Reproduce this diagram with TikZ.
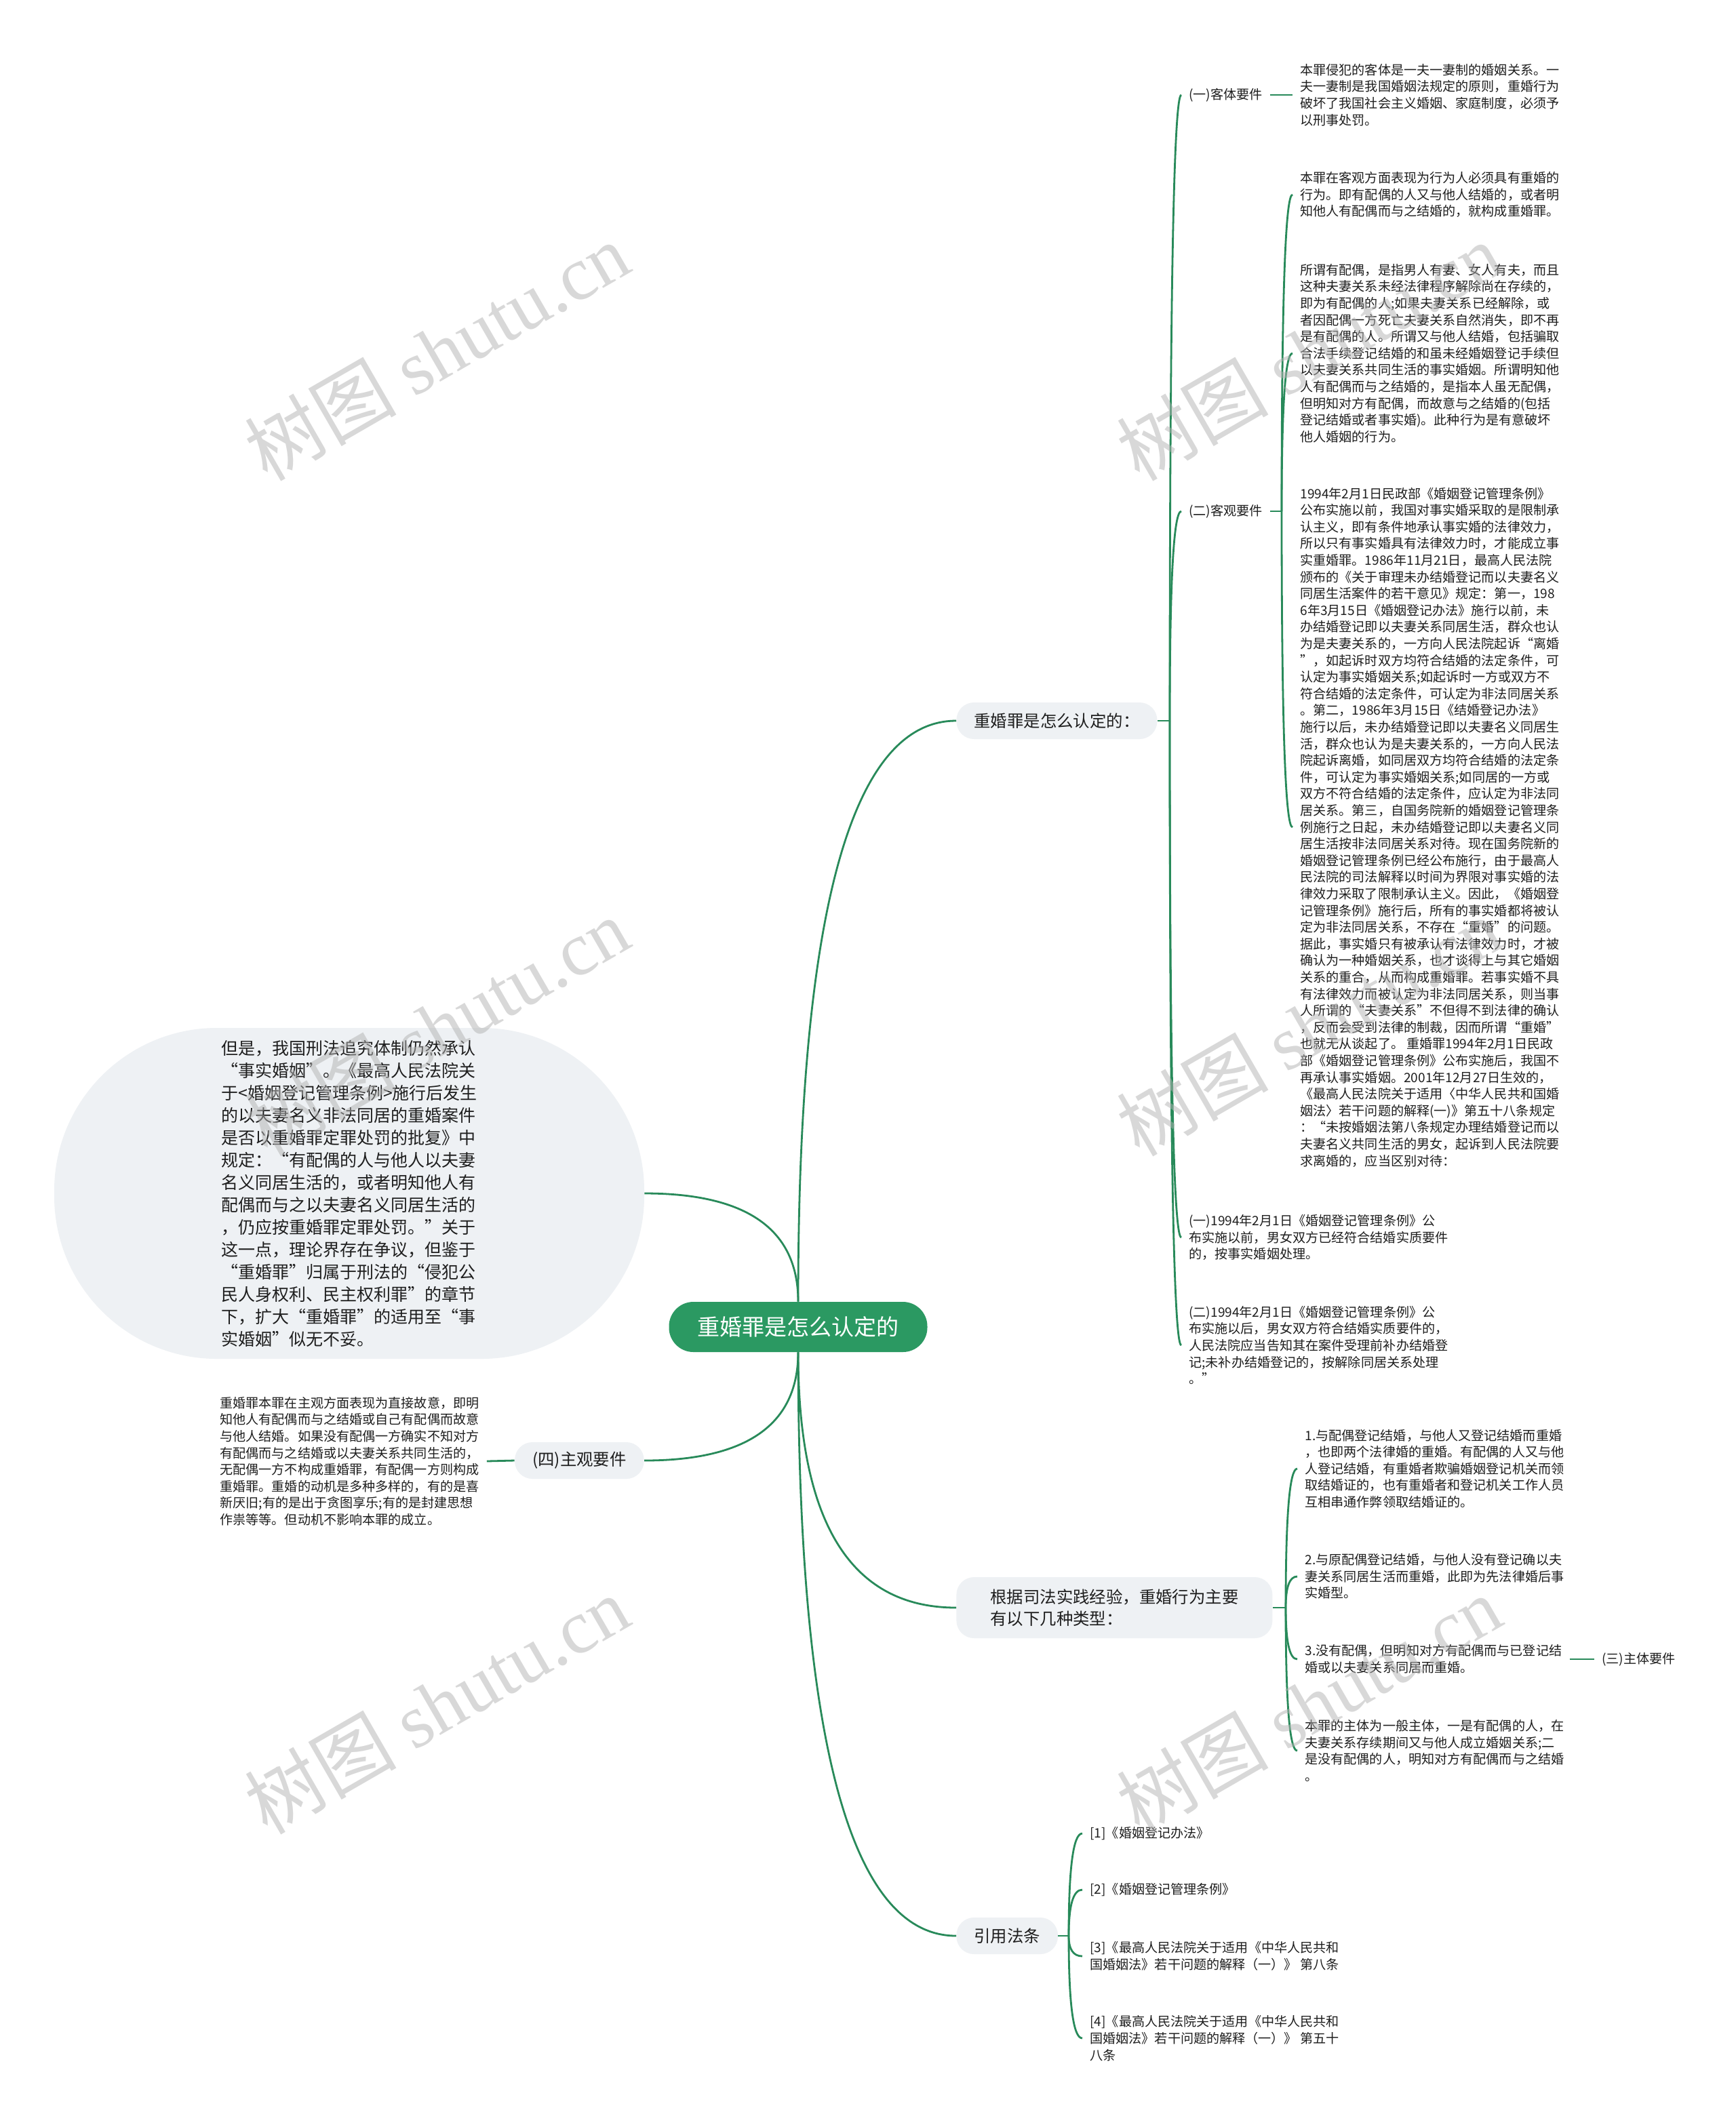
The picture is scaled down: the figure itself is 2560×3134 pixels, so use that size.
\documentclass[tikz,border=0pt]{standalone}
\usepackage{fontspec}
\setmainfont{Noto Sans CJK SC}
\newfontfamily\wmfont{Liberation Serif}
\usepackage{tikz}
\usetikzlibrary{calc,positioning}
\definecolor{linkgreen}{RGB}{40,138,90}
\definecolor{rootgreen}{RGB}{43,153,98}
\definecolor{bubblegray}{RGB}{238,241,244}
\definecolor{inkgray}{RGB}{30,30,30}
\tikzset{
  link/.style={draw=linkgreen, line width=1.4pt},
  bend link/.style={link, to path={.. controls ($(\tikztostart)!.667!(\tikztostart|-\tikztotarget)$) and ($(\tikztotarget)!.667!(\tikztostart|-\tikztotarget)$) .. (\tikztotarget)}},
  body/.style={anchor=west, align=left, inner xsep=5.5pt, inner ysep=0pt, text=inkgray, font=\fontsize{9.55pt}{12.3pt}\selectfont},
  branch/.style={fill=bubblegray, rounded corners=13pt, inner xsep=13pt, minimum height=27pt, align=left, text=inkgray, font=\fontsize{12.2pt}{16pt}\selectfont},
  bubble/.style={fill=bubblegray, rounded corners=120pt, minimum width=435pt, minimum height=244pt, inner sep=0pt, align=left, text=inkgray, font=\fontsize{12.5pt}{16.5pt}\selectfont},
  rootbox/.style={fill=rootgreen, rounded corners=18pt, inner xsep=21pt, minimum height=37pt, text=white, font=\fontsize{16.5pt}{20pt}\selectfont},
  wmark/.style={rotate=30, text=gray!60, opacity=0.5, font=\fontsize{56pt}{60pt}\selectfont},
}
\begin{document}
\begin{tikzpicture}[x=0.5pt,y=-0.5pt]
\fill[white] (0,0) rectangle (2560,3134);
\useasboundingbox (0,0) rectangle (2560,3134);

\draw(1177,1957) node[rootbox] (root) {重婚罪是怎么认定的};
\draw(1410,1063) node[branch,anchor=west] (br1) {重婚罪是怎么认定的：};
\draw(1410,2371) node[branch,anchor=west,minimum width=233pt,minimum height=45pt] (br2) {根据司法实践经验，重婚行为主要\\有以下几种类型：};
\draw(1410,2855) node[branch,anchor=west] (br3) {引用法条};
\draw(950,2154) node[branch,anchor=east] (br4) {(四)主观要件};
\draw(515,1760) node[bubble] (ell) {但是，我国刑法追究体制仍然承认\\
“事实婚姻”。《最高人民法院关\\
于<婚姻登记管理条例>施行后发生\\
的以夫妻名义非法同居的重婚案件\\
是否以重婚罪定罪处罚的批复》中\\
规定：“有配偶的人与他人以夫妻\\
名义同居生活的，或者明知他人有\\
配偶而与之以夫妻名义同居生活的\\
，仍应按重婚罪定罪处罚。”关于\\
这一点，理论界存在争议，但鉴于\\
“重婚罪”归属于刑法的“侵犯公\\
民人身权利、民主权利罪”的章节\\
下，扩大“重婚罪”的适用至“事\\
实婚姻”似无不妥。};

\draw(313,2155) node[body] (q1) {重婚罪本罪在主观方面表现为直接故意，即明\\
知他人有配偶而与之结婚或自己有配偶而故意\\
与他人结婚。如果没有配偶一方确实不知对方\\
有配偶而与之结婚或以夫妻关系共同生活的，\\
无配偶一方不构成重婚罪，有配偶一方则构成\\
重婚罪。重婚的动机是多种多样的，有的是喜\\
新厌旧;有的是出于贪图享乐;有的是封建思想\\
作祟等等。但动机不影响本罪的成立。};

\draw(1742,140) node[body] (ke) {(一)客体要件};
\draw(1742,754) node[body] (kg) {(二)客观要件};
\draw(1742,1825) node[body] (k3) {(一)1994年2月1日《婚姻登记管理条例》公\\
布实施以前，男女双方已经符合结婚实质要件\\
的，按事实婚姻处理。};
\draw(1742,1984) node[body] (k4) {(二)1994年2月1日《婚姻登记管理条例》公\\
布实施以后，男女双方符合结婚实质要件的，\\
人民法院应当告知其在案件受理前补办结婚登\\
记;未补办结婚登记的，按解除同居关系处理\\
。”};

\draw(1906,140) node[body] (t1) {本罪侵犯的客体是一夫一妻制的婚姻关系。一\\
夫一妻制是我国婚姻法规定的原则，重婚行为\\
破坏了我国社会主义婚姻、家庭制度，必须予\\
以刑事处罚。};
\draw(1906,287) node[body] (t2) {本罪在客观方面表现为行为人必须具有重婚的\\
行为。即有配偶的人又与他人结婚的，或者明\\
知他人有配偶而与之结婚的，就构成重婚罪。};
\draw(1906,521) node[body] (t3) {所谓有配偶，是指男人有妻、女人有夫，而且\\
这种夫妻关系未经法律程序解除尚在存续的，\\
即为有配偶的人;如果夫妻关系已经解除，或\\
者因配偶一方死亡夫妻关系自然消失，即不再\\
是有配偶的人。所谓又与他人结婚，包括骗取\\
合法手续登记结婚的和虽未经婚姻登记手续但\\
以夫妻关系共同生活的事实婚姻。所谓明知他\\
人有配偶而与之结婚的，是指本人虽无配偶，\\
但明知对方有配偶，而故意与之结婚的(包括\\
登记结婚或者事实婚)。此种行为是有意破坏\\
他人婚姻的行为。};
\draw(1906,1220) node[body] (t4) {1994年2月1日民政部《婚姻登记管理条例》\\
公布实施以前，我国对事实婚采取的是限制承\\
认主义，即有条件地承认事实婚的法律效力，\\
所以只有事实婚具有法律效力时，才能成立事\\
实重婚罪。1986年11月21日，最高人民法院\\
颁布的《关于审理未办结婚登记而以夫妻名义\\
同居生活案件的若干意见》规定：第一，198\\
6年3月15日《婚姻登记办法》施行以前，未\\
办结婚登记即以夫妻关系同居生活，群众也认\\
为是夫妻关系的，一方向人民法院起诉“离婚\\
”，如起诉时双方均符合结婚的法定条件，可\\
认定为事实婚姻关系;如起诉时一方或双方不\\
符合结婚的法定条件，可认定为非法同居关系\\
。第二，1986年3月15日《结婚登记办法》\\
施行以后，未办结婚登记即以夫妻名义同居生\\
活，群众也认为是夫妻关系的，一方向人民法\\
院起诉离婚，如同居双方均符合结婚的法定条\\
件，可认定为事实婚姻关系;如同居的一方或\\
双方不符合结婚的法定条件，应认定为非法同\\
居关系。第三，自国务院新的婚姻登记管理条\\
例施行之日起，未办结婚登记即以夫妻名义同\\
居生活按非法同居关系对待。现在国务院新的\\
婚姻登记管理条例已经公布施行，由于最高人\\
民法院的司法解释以时间为界限对事实婚的法\\
律效力采取了限制承认主义。因此，《婚姻登\\
记管理条例》施行后，所有的事实婚都将被认\\
定为非法同居关系，不存在“重婚”的问题。\\
据此，事实婚只有被承认有法律效力时，才被\\
确认为一种婚姻关系，也才谈得上与其它婚姻\\
关系的重合，从而构成重婚罪。若事实婚不具\\
有法律效力而被认定为非法同居关系，则当事\\
人所谓的“夫妻关系”不但得不到法律的确认\\
，反而会受到法律的制裁，因而所谓“重婚”\\
也就无从谈起了。 重婚罪1994年2月1日民政\\
部《婚姻登记管理条例》公布实施后，我国不\\
再承认事实婚姻。2001年12月27日生效的，\\
《最高人民法院关于适用〈中华人民共和国婚\\
姻法〉若干问题的解释(一)》第五十八条规定\\
：“未按婚姻法第八条规定办理结婚登记而以\\
夫妻名义共同生活的男女，起诉到人民法院要\\
求离婚的，应当区别对待：};

\draw(1913,2166) node[body] (s1) {1.与配偶登记结婚，与他人又登记结婚而重婚\\
，也即两个法律婚的重婚。有配偶的人又与他\\
人登记结婚，有重婚者欺骗婚姻登记机关而领\\
取结婚证的，也有重婚者和登记机关工作人员\\
互相串通作弊领取结婚证的。};
\draw(1913,2325) node[body] (s2) {2.与原配偶登记结婚，与他人没有登记确以夫\\
妻关系同居生活而重婚，此即为先法律婚后事\\
实婚型。};
\draw(1913,2447) node[body] (s3) {3.没有配偶，但明知对方有配偶而与已登记结\\
婚或以夫妻关系同居而重婚。};
\draw(1913,2582) node[body] (s4) {本罪的主体为一般主体，一是有配偶的人，在\\
夫妻关系存续期间又与他人成立婚姻关系;二\\
是没有配偶的人，明知对方有配偶而与之结婚\\
。};
\draw(2351,2447) node[body] (zt) {(三)主体要件};

\draw(1596,2704) node[body] (r1) {[1]《婚姻登记办法》};
\draw(1596,2787) node[body] (r2) {[2]《婚姻登记管理条例》};
\draw(1596,2885) node[body] (r3) {[3]《最高人民法院关于适用《中华人民共和\\
国婚姻法》若干问题的解释（一）》 第八条};
\draw(1596,3006) node[body] (r4) {[4]《最高人民法院关于适用《中华人民共和\\
国婚姻法》若干问题的解释（一）》 第五十\\
八条};

\coordinate (j1) at (1725,1063);
\coordinate (j2) at (1890,754);
\coordinate (j3) at (1896,2371);
\coordinate (j4) at (1576,2855);

\draw[bend link] (root.north) to (br1.west);
\draw[bend link] (root.north) to (ell.east);
\draw[bend link] (root.south) to (br4.east);
\draw[bend link] (root.south) to (br2.west);
\draw[bend link] (root.south) to (br3.west);
\draw[link] (br4.west) -- (q1.east);

\draw[link] (br1.east) -- (j1);
\draw[bend link] (j1) to (ke.west);
\draw[bend link] (j1) to (kg.west);
\draw[bend link] (j1) to (k3.west);
\draw[bend link] (j1) to (k4.west);
\draw[link] (ke.east) -- (t1.west);
\draw[link] (kg.east) -- (j2);
\draw[bend link] (j2) to (t2.west);
\draw[bend link] (j2) to (t3.west);
\draw[bend link] (j2) to (t4.west);

\draw[link] (br2.east) -- (j3);
\draw[bend link] (j3) to (s1.west);
\draw[bend link] (j3) to (s2.west);
\draw[bend link] (j3) to (s3.west);
\draw[bend link] (j3) to (s4.west);
\draw[link] (s3.east) -- (zt.west);

\draw[link] (br3.east) -- (j4);
\draw[bend link] (j4) to (r1.west);
\draw[bend link] (j4) to (r2.west);
\draw[bend link] (j4) to (r3.west);
\draw[bend link] (j4) to (r4.west);

\draw(644,518) node[wmark] (w1) {树图 {\wmfont shutu.cn}};
\draw(1930,518) node[wmark] (w2) {树图 {\wmfont shutu.cn}};
\draw(644,1514) node[wmark] (w3) {树图 {\wmfont shutu.cn}};
\draw(1930,1514) node[wmark] (w4) {树图 {\wmfont shutu.cn}};
\draw(644,2514) node[wmark] (w5) {树图 {\wmfont shutu.cn}};
\draw(1930,2514) node[wmark] (w6) {树图 {\wmfont shutu.cn}};
\end{tikzpicture}
\end{document}
